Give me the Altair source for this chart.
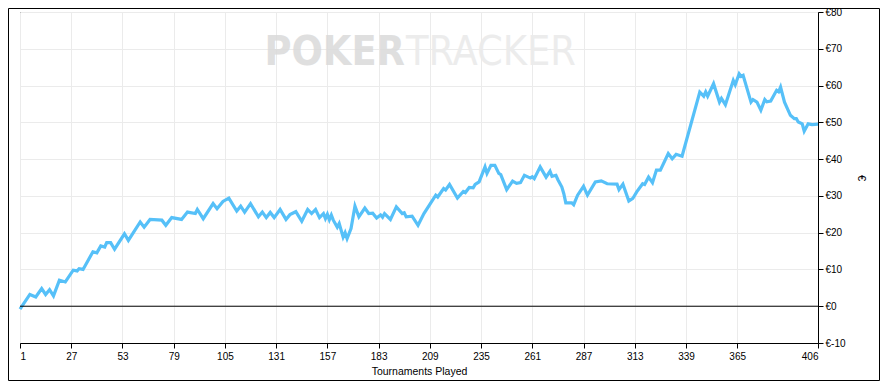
import altair as alt
import pandas as pd

# Tournament number and cumulative winnings (€)
tournaments = [1, 6, 9, 12, 14, 16, 18, 21, 24, 28, 30, 31, 33, 38, 40, 42, 44, 45, 47, 49,
               54, 56, 62, 64, 67, 73, 75, 78, 83, 86, 90, 91, 94, 99, 101, 104, 107, 111, 113, 115,
               118, 122, 124, 126, 128, 130, 133, 136, 138, 141, 144, 147, 149, 151, 153, 155, 156, 157, 158, 159,
               160, 162, 163, 165, 166, 167, 169, 171, 173, 176, 178, 180, 182, 184, 185, 186, 189, 192, 195, 196,
               197, 200, 203, 206, 212, 213, 216, 217, 219, 223, 226, 227, 229, 231, 232, 234, 237, 238, 240, 242,
               244, 245, 248, 251, 253, 255, 257, 259, 260, 261, 262, 265, 268, 270, 271, 273, 274, 276, 277, 278,
               281, 282, 284, 287, 289, 293, 296, 299, 304, 305, 307, 310, 312, 314, 317, 318, 320, 322, 324, 326,
               330, 332, 334, 337, 346, 348, 349, 350, 353, 356, 357, 359, 363, 364, 366, 367, 368, 372, 373, 375,
               377, 379, 380, 382, 385, 386, 387, 389, 392, 394, 395, 396, 398, 399, 401, 403, 406]
winnings = [-0.8, 3.2, 2.5, 4.8, 3.2, 4.5, 2.8, 7.1, 6.6, 9.8, 9.6, 10.2, 10.0, 14.8, 14.5, 16.4, 16.1, 17.3, 17.3, 15.5,
            19.7, 17.9, 22.9, 21.5, 23.6, 23.4, 22.0, 24.1, 23.6, 25.6, 25.2, 26.3, 23.8, 27.9, 26.5, 28.5, 29.4, 25.9, 27.2, 25.6,
            27.9, 24.3, 25.6, 24.1, 25.5, 24.1, 26.3, 23.6, 24.9, 25.7, 23.1, 26.3, 25.2, 26.3, 24.1, 25.2, 23.8, 25.0, 23.5, 24.8,
            23.4, 21.5, 22.5, 18.8, 20.0, 18.4, 21.1, 27.2, 24.3, 26.7, 25.2, 25.3, 24.0, 24.8, 24.2, 25.2, 23.6, 27.0, 25.2, 25.4,
            24.3, 24.5, 22.0, 25.2, 30.2, 29.7, 32.0, 31.6, 33.1, 29.4, 31.2, 30.9, 32.3, 32.2, 33.1, 33.8, 37.9, 36.1, 38.3, 38.3,
            36.1, 35.8, 31.7, 34.0, 33.4, 33.6, 35.6, 35.1, 34.9, 35.2, 34.7, 37.9, 35.1, 36.7, 35.3, 35.6, 34.4, 32.4, 30.6, 28.1,
            28.1, 27.6, 30.2, 32.6, 30.2, 33.8, 34.1, 33.3, 33.2, 31.7, 33.2, 28.6, 29.3, 31.1, 33.3, 33.1, 35.1, 33.6, 37.0, 37.0,
            41.5, 40.1, 41.3, 40.8, 58.2, 57.1, 58.3, 57.1, 60.5, 55.5, 56.5, 54.8, 61.4, 60.2, 63.2, 62.5, 62.8, 55.5, 56.2, 55.5,
            53.3, 56.2, 55.6, 55.8, 58.7, 58.3, 59.6, 55.5, 51.9, 51.0, 51.0, 50.1, 49.6, 47.6, 49.6, 49.4, 49.5]

x_ticks = [1, 27, 53, 79, 105, 131, 157, 183, 209, 235, 261, 287, 313, 339, 365, 406]
y_ticks = [-10, 0, 10, 20, 30, 40, 50, 60, 70, 80]

df = pd.DataFrame({"t": tournaments, "v": winnings})

FONT = "Liberation Sans"
WM_FONT = "DejaVu Sans Condensed"
W, H = 798, 331

x_scale = alt.Scale(domain=[1, 406], nice=False, zero=False)
y_scale = alt.Scale(domain=[-10, 80], nice=False, zero=False)

x_axis = alt.Axis(values=x_ticks, title="Tournaments Played", grid=True, gridColor="#ebebeb",
                  domainColor="black", tickColor="black", tickSize=5, labelFont=FONT, labelFontSize=10,
                  labelColor="black", labelOverlap=False, titleFont=FONT, titleFontSize=10.5,
                  titleFontWeight="normal", titleColor="black", titlePadding=5, labelPadding=3)
y_axis = alt.Axis(values=y_ticks, orient="right", title="€", grid=True, gridColor="#ebebeb",
                  domainColor="black", tickColor="black", tickSize=5, labelFont=FONT, labelFontSize=10,
                  labelColor="black", labelOverlap=False, labelExpr="'€' + datum.value",
                  titleFont=FONT, titleFontSize=11, titleFontWeight="normal", titleColor="black",
                  titlePadding=10, labelPadding=2)

base = alt.Chart(df)

wm_poker = alt.Chart(pd.DataFrame({"s": ["POKER"]})).mark_text(
    font=WM_FONT, fontSize=41, fontWeight="bold",
    color="#dadada", align="right", baseline="alphabetic", opacity=0.85
).encode(text="s:N", x=alt.value(385), y=alt.value(53))

wm_tracker = alt.Chart(pd.DataFrame({"s": ["TRACKER"]})).mark_text(
    font=WM_FONT, fontSize=41, fontWeight="normal",
    color="#ebebeb", align="left", baseline="alphabetic", opacity=0.9
).encode(text="s:N", x=alt.value(386), y=alt.value(53))

line = base.mark_line(color="#56c0f8", strokeWidth=3.2, strokeJoin="miter").encode(
    x=alt.X("t:Q", scale=x_scale, axis=x_axis),
    y=alt.Y("v:Q", scale=y_scale, axis=y_axis),
)

zero = alt.Chart(pd.DataFrame({"z": [0]})).mark_rule(color="black", strokeWidth=1).encode(
    y=alt.Y("z:Q", scale=y_scale, axis=y_axis)
)

border = alt.Chart(pd.DataFrame({"a": [0]})).mark_rect(
    fill=None, stroke="black", strokeWidth=1
).encode(x=alt.value(-11.5), x2=alt.value(859.5), y=alt.value(-3.5), y2=alt.value(368.5))

chart = alt.layer(wm_poker, wm_tracker, line, zero, border).properties(
    width=W, height=H,
    autosize=alt.AutoSizeParams(type="none"),
    padding={"left": 12, "top": 4, "right": 62, "bottom": 38},
    background="white",
).configure_view(stroke="black", strokeWidth=1).configure_axis(labelOverlap=False)

chart.save("out.html", embed_options={"renderer": "svg", "actions": False})
